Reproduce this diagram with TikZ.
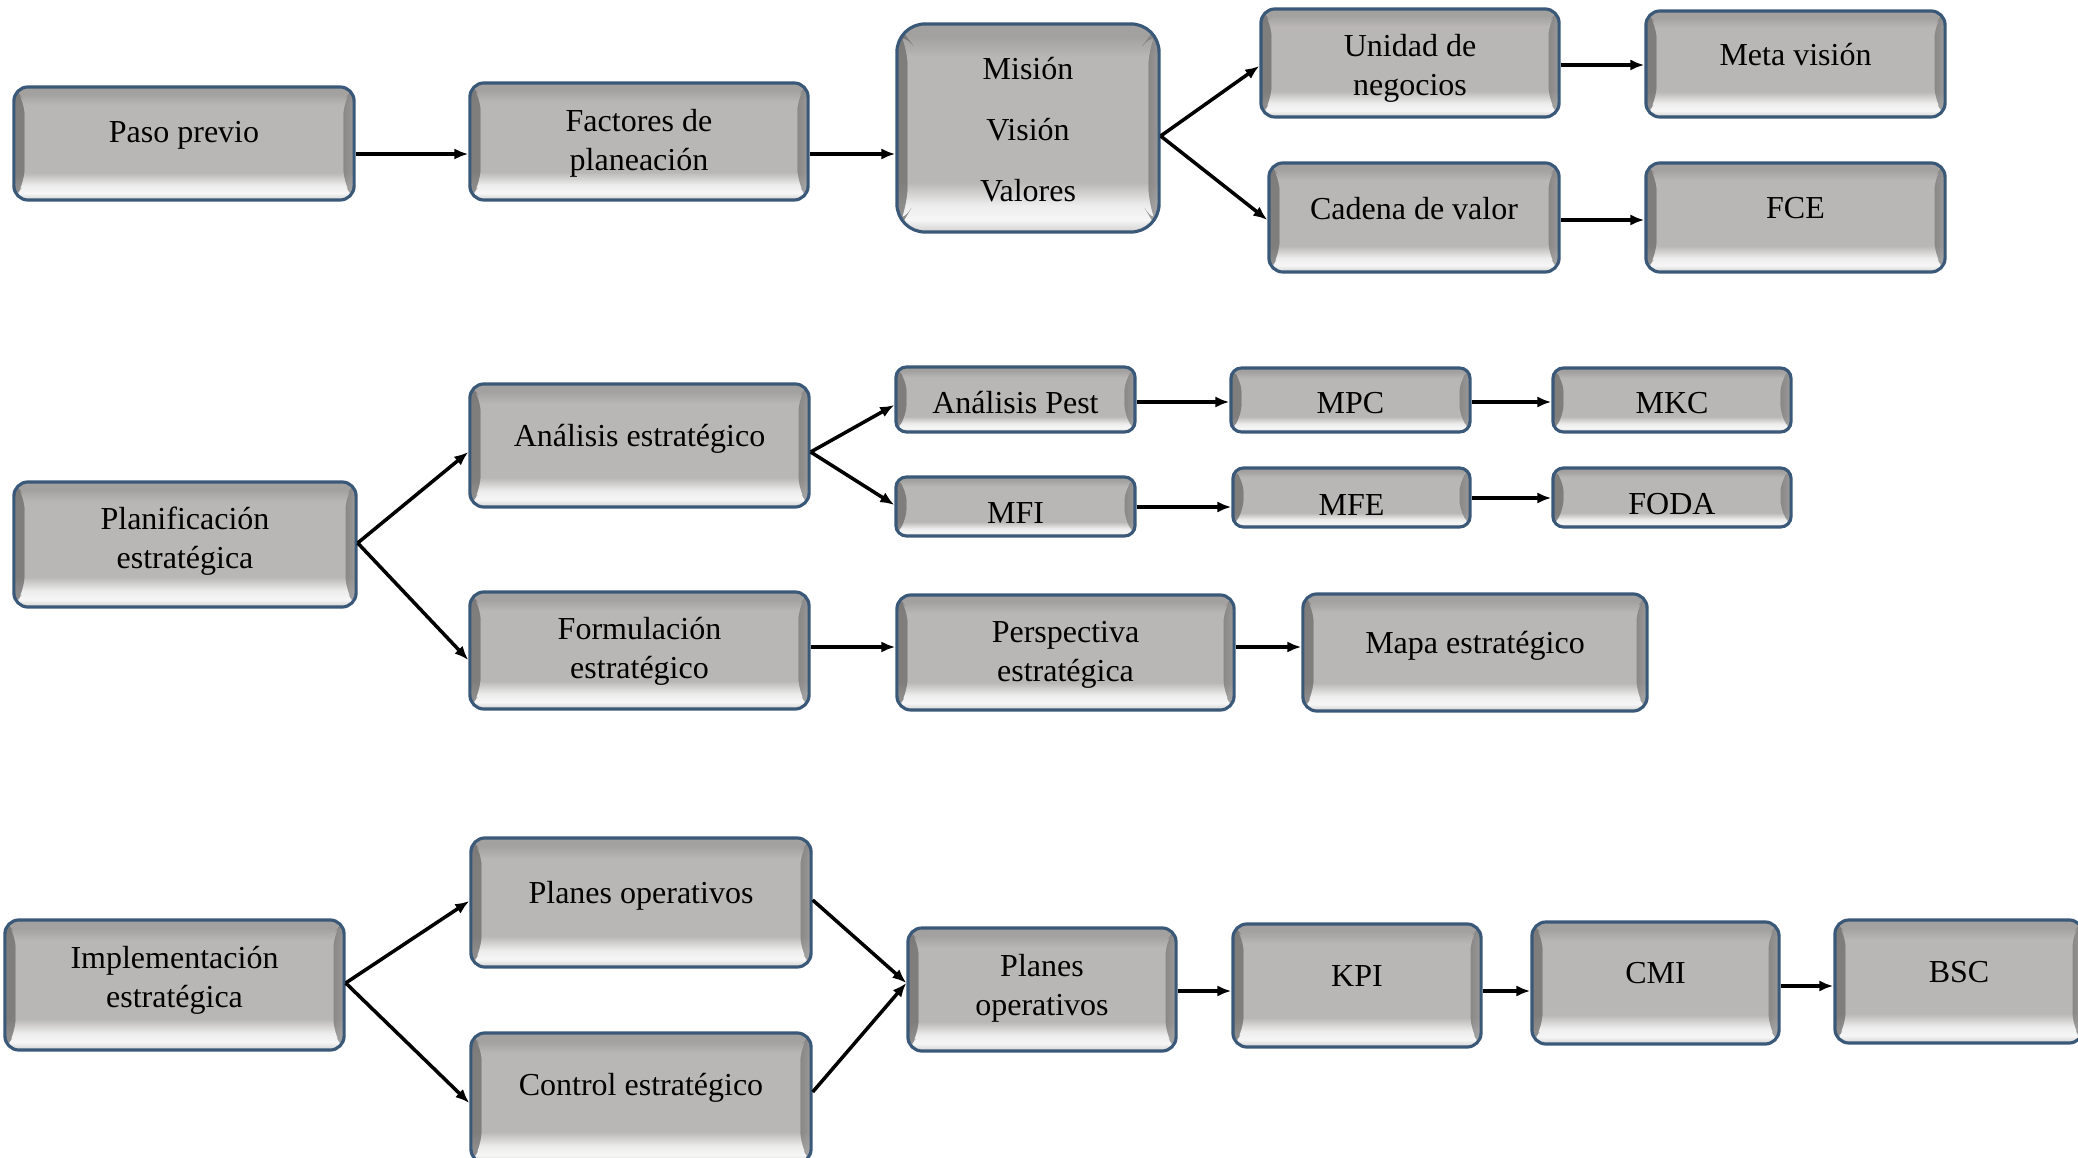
\documentclass[tikz,border=0pt]{standalone}
\usepackage{fontspec}
\setmainfont{Liberation Serif}
\usepackage{tikz}
\usetikzlibrary{arrows.meta,positioning}

\definecolor{boxmid}{HTML}{B9B7B6}
\definecolor{boxtop}{HTML}{A3A1A0}
\definecolor{boxlight}{HTML}{F6F6F6}
\definecolor{boxlow}{HTML}{D2D1D0}
\definecolor{boxedge}{HTML}{3A5878}
\pgfdeclareverticalshading{bevel}{100bp}{color(0bp)=(boxlow); color(25bp)=(boxlow);
  color(28bp)=(boxlight); color(31.5bp)=(boxlight!85!boxmid); color(37bp)=(boxmid);
  color(67bp)=(boxmid); color(72bp)=(boxtop); color(75bp)=(boxtop); color(100bp)=(boxtop)}

\begin{document}
\begin{tikzpicture}
  [
    x=0.01cm,y=-0.01cm,
    font=\fontsize{9.1pt}{11pt}\selectfont,
    every label/.style={align=center,inner sep=0pt},
    box/.style={rectangle,rounded corners=4pt,draw=boxedge,line width=0.9pt,shading=bevel,inner sep=0pt,
      path picture={
        \fill[left color=boxtop,right color=boxmid,opacity=0.5]
          (path picture bounding box.north west) -- ([xshift=3pt,yshift=-4pt]path picture bounding box.north west)
          -- ([xshift=3pt,yshift=5pt]path picture bounding box.south west) -- (path picture bounding box.south west) -- cycle;
        \fill[left color=boxmid,right color=boxlight!50!boxmid,opacity=0.5]
          (path picture bounding box.north east) -- ([xshift=-3pt,yshift=-4pt]path picture bounding box.north east)
          -- ([xshift=-3pt,yshift=5pt]path picture bounding box.south east) -- (path picture bounding box.south east) -- cycle;
      }},
    small box/.style={box,rounded corners=3pt},
    link/.style={-{Latex[length=4pt,width=3.2pt]},line width=1pt}
  ]
  \path[use as bounding box,clip] (0,0) rectangle (2078,1158);

  % paso previo
  \node[box,minimum width=3.40cm,minimum height=1.13cm,label={[yshift=2.3pt]center:Paso previo}] at (184,143.5) (paso previo) {};
  \node[box,minimum width=3.38cm,minimum height=1.17cm,label={[yshift=-0.6pt]center:Factores de\\planeación}] at (639,141.5) (factores) {};
  \node[box,rounded corners=8pt,minimum width=2.62cm,minimum height=2.08cm,label={[yshift=-0.4pt]center:Misión\\[6.4pt]Visión\\[6.4pt]Valores}] at (1028,128) (mision) {};
  \node[box,minimum width=2.98cm,minimum height=1.08cm,label={[yshift=-1.6pt]center:Unidad de\\negocios}] at (1410,63) (unidad) {};
  \node[box,minimum width=2.99cm,minimum height=1.06cm,label={[yshift=2.6pt]center:Meta visión}] at (1795.5,64) (meta) {};
  \node[box,minimum width=2.90cm,minimum height=1.09cm,label={[yshift=2.6pt]center:Cadena de valor}] at (1414,217.5) (cadena) {};
  \node[box,minimum width=2.99cm,minimum height=1.09cm,label={[yshift=2.6pt]center:FCE}] at (1795.5,217.5) (fce) {};

  % planificacion
  \node[box,minimum width=3.42cm,minimum height=1.25cm,label={[yshift=0.9pt]center:Planificación\\estratégica}] at (185,544.5) (planificacion) {};
  \node[box,minimum width=3.39cm,minimum height=1.23cm,label={[yshift=2pt]center:Análisis estratégico}] at (639.5,445.5) (analisis) {};
  \node[box,minimum width=3.39cm,minimum height=1.17cm,label={[yshift=-0.2pt]center:Formulación\\estratégico}] at (639.5,650.5) (formulacion) {};
  \node[small box,minimum width=2.39cm,minimum height=0.65cm,label={[yshift=-1pt]center:Análisis Pest}] at (1015.5,399.5) (pest) {};
  \node[small box,minimum width=2.39cm,minimum height=0.64cm,label={[yshift=-1pt]center:MPC}] at (1350.5,400) (mpc) {};
  \node[small box,minimum width=2.38cm,minimum height=0.64cm,label={[yshift=-1pt]center:MKC}] at (1672,400) (mkc) {};
  \node[small box,minimum width=2.39cm,minimum height=0.59cm,label={[yshift=-1.8pt]center:MFI}] at (1015.5,506.5) (mfi) {};
  \node[small box,minimum width=2.37cm,minimum height=0.59cm,label={[yshift=-2pt]center:MFE}] at (1351.5,497.5) (mfe) {};
  \node[small box,minimum width=2.38cm,minimum height=0.59cm,label={[yshift=-2pt]center:FODA}] at (1672,497.5) (foda) {};
  \node[box,minimum width=3.37cm,minimum height=1.15cm,label={[yshift=-0.6pt]center:Perspectiva\\estratégica}] at (1065.5,652.5) (perspectiva) {};
  \node[box,minimum width=3.44cm,minimum height=1.17cm,label={[yshift=2pt]center:Mapa estratégico}] at (1475,652.5) (mapa) {};

  % implementacion
  \node[box,minimum width=3.39cm,minimum height=1.30cm,label={[yshift=1.4pt]center:Implementación\\estratégica}] at (174.5,985) (implementacion) {};
  \node[box,minimum width=3.40cm,minimum height=1.29cm,label={[yshift=2pt]center:Planes operativos}] at (641,902.5) (planes top) {};
  \node[box,minimum width=3.40cm,minimum height=1.30cm,label={[yshift=3pt]center:Control estratégico}] at (641,1098) (control) {};
  \node[box,minimum width=2.68cm,minimum height=1.23cm,label={[yshift=0.4pt]center:Planes\\operativos}] at (1042,989.5) (planes mid) {};
  \node[box,minimum width=2.48cm,minimum height=1.23cm,label={[yshift=2.6pt]center:KPI}] at (1357,985.5) (kpi) {};
  \node[box,minimum width=2.47cm,minimum height=1.22cm,label={[yshift=2.7pt]center:CMI}] at (1655.5,983) (cmi) {};
  \node[box,minimum width=2.48cm,minimum height=1.23cm,label={[yshift=2.6pt]center:BSC}] at (1959,981.5) (bsc) {};

  % conectores
  \draw[link] (paso previo.east |- 0,154) -- (factores.west |- 0,154);
  \draw[link] (factores.east |- 0,154) -- (mision.west |- 0,154);
  \draw[link] (mision.east |- 0,136) -- (unidad.west |- 0,66);
  \draw[link] (mision.east |- 0,136) -- (cadena.west |- 0,220);
  \draw[link] (unidad.east |- 0,65) -- (meta.west |- 0,65);
  \draw[link] (cadena.east |- 0,220) -- (fce.west |- 0,220);

  \draw[link] (planificacion.east |- 0,543) -- (analisis.west |- 0,452);
  \draw[link] (planificacion.east |- 0,543) -- (formulacion.west |- 0,660);
  \draw[link] (analisis.east |- 0,452) -- (pest.west |- 0,405);
  \draw[link] (analisis.east |- 0,452) -- (mfi.west |- 0,505);
  \draw[link] (pest.east |- 0,402) -- (mpc.west |- 0,402);
  \draw[link] (mpc.east |- 0,402) -- (mkc.west |- 0,402);
  \draw[link] (mfi.east |- 0,507) -- (mfe.west |- 0,507);
  \draw[link] (mfe.east |- 0,498) -- (foda.west |- 0,498);
  \draw[link] (formulacion.east |- 0,647) -- (perspectiva.west |- 0,647);
  \draw[link] (perspectiva.east |- 0,647) -- (mapa.west |- 0,647);

  \draw[link] (implementacion.east |- 0,983) -- (planes top.west |- 0,901);
  \draw[link] (implementacion.east |- 0,983) -- (control.west |- 0,1103);
  \draw[link] (planes top.east |- 0,900) -- (planes mid.west |- 0,983);
  \draw[link] (control.east |- 0,1092) -- (planes mid.west |- 0,983);
  \draw[link] (planes mid.east |- 0,991) -- (kpi.west |- 0,991);
  \draw[link] (kpi.east |- 0,991) -- (cmi.west |- 0,991);
  \draw[link] (cmi.east |- 0,986) -- (bsc.west |- 0,986);
\end{tikzpicture}
\end{document}
